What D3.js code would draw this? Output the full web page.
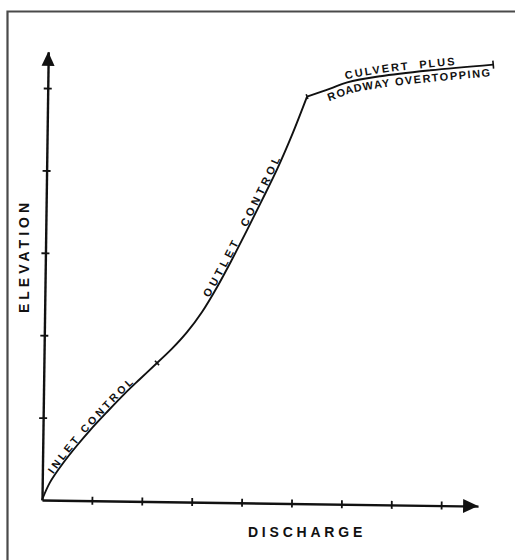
<!DOCTYPE html>
<html>
<head>
<meta charset="utf-8">
<script src="https://cdn.jsdelivr.net/npm/d3@7"></script>
<style>
  html, body { margin: 0; padding: 0; background: #fff; }
  svg { display: block; }
  .lbl { font-family: "Liberation Sans", Arial, sans-serif; font-weight: bold; fill: #111; white-space: pre; }
</style>
</head>
<body>
<svg id="chart" width="515" height="560"></svg>
<script>
// ---- data (units = tick spacing) ----
const xTicks = [1, 2, 3, 4, 5, 6, 7, 8];
const yTicks = [1, 2, 3, 4, 5];
const xAxisEnd = 8.74;
const yAxisEnd = 5.44;

const inletX = [0, 0.155, 0.41, 0.686, 0.942, 1.278, 1.633, 1.930, 2.266];
const inletY = [0, 0.215, 0.449, 0.667, 0.854, 1.079, 1.308, 1.485, 1.682];

const outletX = [2.266, 2.563, 2.859, 3.154, 3.447, 3.740, 4.033, 4.325, 4.617, 4.908, 5.198];
const outletY = [1.682, 1.858, 2.061, 2.309, 2.612, 2.951, 3.309, 3.676, 4.051, 4.472, 4.939];

const overX = [5.198, 5.66, 6.00, 6.66, 7.66, 8.92];
const overY = [4.939, 5.04, 5.12, 5.20, 5.28, 5.36];

const labelInlet = "INLET CONTROL";
const labelOutlet = "OUTLET  CONTROL";
const labelCulvert = "CULVERT  PLUS";
const labelRoadway = "ROADWAY OVERTOPPING";
const labelX = "DISCHARGE";
const labelY = "ELEVATION";

// ---- drawing ----
const svg = d3.select("#chart");
const ink = "#111";

// frame
svg.append("path")
  .attr("d", "M7.5,575V11.5H530")
  .attr("fill", "none")
  .attr("stroke", "#4a4a4a")
  .attr("stroke-width", 2.2);

const x = d3.scaleLinear().domain([0, 1]).range([0, 49.9]);
const y = d3.scaleLinear().domain([0, 1]).range([0, -82.4]);

const g = svg.append("g").attr("transform", "translate(42,500) rotate(0.8)");

// x axis
const xa = g.append("g")
  .call(d3.axisBottom(x.copy().domain([0, xAxisEnd]).range([0, x(xAxisEnd)]))
    .tickValues(xTicks).tickSizeInner(4).tickSizeOuter(0).tickFormat(""));
xa.select(".domain").attr("stroke", ink).attr("stroke-width", 2.4);
xa.selectAll(".tick line").attr("y1", -4).attr("y2", 4).attr("stroke", ink).attr("stroke-width", 1.8);

// y axis
const ya = g.append("g")
  .call(d3.axisLeft(y.copy().domain([0, yAxisEnd]).range([0, y(yAxisEnd)]))
    .tickValues(yTicks).tickSizeInner(4).tickSizeOuter(0).tickFormat(""));
ya.select(".domain").attr("stroke", ink).attr("stroke-width", 2.4);
ya.selectAll(".tick line").attr("x1", 4).attr("x2", -4).attr("stroke", ink).attr("stroke-width", 1.8);

// arrowheads
const xe = x(xAxisEnd), ye = y(yAxisEnd);
g.append("path").attr("d", `M${xe},0L${xe - 15},-7L${xe - 15},7Z`).attr("fill", ink);
g.append("path").attr("d", `M0,${ye}L-6.5,${ye + 14}L6.5,${ye + 14}Z`).attr("fill", ink);

// curves
const line = d3.line().x(d => x(d[0])).y(d => y(d[1])).curve(d3.curveCatmullRom.alpha(0.5));
const segs = [
  { id: "inlet", xs: inletX, ys: inletY },
  { id: "outlet", xs: outletX, ys: outletY },
  { id: "over", xs: overX, ys: overY }
];
segs.forEach(s => {
  const pts = s.xs.map((v, i) => [v, s.ys[i]]);
  g.append("path").attr("id", s.id).attr("d", line(pts))
    .attr("fill", "none").attr("stroke", ink).attr("stroke-width", 1.9)
    .attr("stroke-linejoin", "round");
});

// small perpendicular ticks on the curve
function perpTick(px, py, ax, ay, bx, by, len) {
  const dx = x(bx) - x(ax), dy = y(by) - y(ay);
  const L = Math.hypot(dx, dy);
  const nx = -dy / L * len / 2, ny = dx / L * len / 2;
  g.append("line")
    .attr("x1", x(px) - nx).attr("y1", y(py) - ny)
    .attr("x2", x(px) + nx).attr("y2", y(py) + ny)
    .attr("stroke", ink).attr("stroke-width", 1.6);
}
perpTick(inletX[8], inletY[8], inletX[7], inletY[7], outletX[1], outletY[1], 6);
perpTick(overX[0], overY[0], overX[0], overY[0], overX[1], overY[1], 5);
const n = overX.length;
perpTick(overX[n - 1], overY[n - 1], overX[n - 2], overY[n - 2], overX[n - 1], overY[n - 1], 8);

// labels along the curve
function pathLabel(id, txt, offset, dy, size, spacing) {
  g.append("text").attr("class", "lbl")
    .attr("font-size", size).attr("letter-spacing", spacing).attr("dy", dy)
    .append("textPath").attr("href", "#" + id).attr("startOffset", offset)
    .text(txt);
}
pathLabel("inlet", labelInlet, 28, -1.5, 10.5, 3.0);
pathLabel("outlet", labelOutlet, 84, -1.5, 11, 3.7);
pathLabel("over", labelCulvert, 42, -3, 11, 1.9);
pathLabel("over", labelRoadway, 19, 11.5, 11, 1.5);

// axis titles
svg.append("text").attr("class", "lbl")
  .attr("x", 307).attr("y", 537)
  .attr("text-anchor", "middle")
  .attr("font-size", 14).attr("letter-spacing", 3.8)
  .text(labelX);

svg.append("text").attr("class", "lbl")
  .attr("transform", "translate(28.5,256) rotate(-90)")
  .attr("text-anchor", "middle")
  .attr("font-size", 14).attr("letter-spacing", 4)
  .text(labelY);
</script>
</body>
</html>
